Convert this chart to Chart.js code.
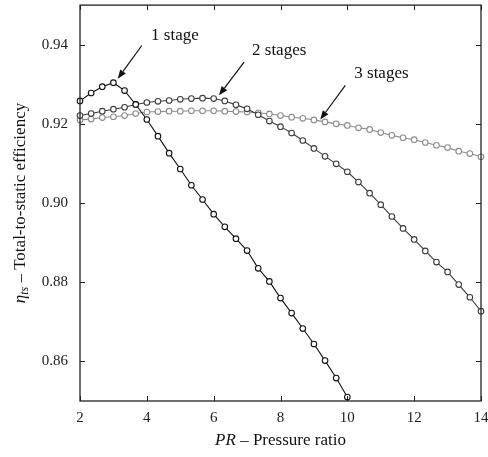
<!DOCTYPE html>
<html>
<head>
<meta charset="utf-8">
<script src="https://cdn.jsdelivr.net/npm/chart.js@4.4.1/dist/chart.umd.min.js"></script>
<style>
  html, body { margin: 0; padding: 0; background: #fff; }
  #wrap { width: 488px; height: 457px; position: relative; }
</style>
</head>
<body>
<div id="wrap"><canvas id="effChart"></canvas></div>
<script>
// pressure ratio samples (step of one third)
const pressureRatio = [2, 2.333, 2.667, 3, 3.333, 3.667, 4, 4.333, 4.667, 5, 5.333, 5.667, 6,
    6.333, 6.667, 7, 7.333, 7.667, 8, 8.333, 8.667, 9, 9.333, 9.667, 10,
    10.333, 10.667, 11, 11.333, 11.667, 12, 12.333, 12.667, 13, 13.333, 13.667, 14];

const eta1Stage = [0.9258, 0.9278, 0.9294, 0.9304, 0.9284, 0.9249, 0.9211, 0.9169, 0.9126, 0.9086,
    0.9045, 0.9009, 0.8972, 0.8940, 0.8910, 0.8880, 0.8835, 0.8802, 0.8760, 0.8722,
    0.8683, 0.8644, 0.8602, 0.8558, 0.8510];

const eta2Stages = [0.9221, 0.9226, 0.9232, 0.9237, 0.9242, 0.9249, 0.9254, 0.9257, 0.9259, 0.9262,
    0.9264, 0.9265, 0.9264, 0.9258, 0.9248, 0.9238, 0.9223, 0.9207, 0.9193, 0.9177,
    0.9158, 0.9138, 0.9118, 0.9099, 0.9079, 0.9053, 0.9025, 0.8996, 0.8966, 0.8936,
    0.8908, 0.8879, 0.8851, 0.8826, 0.8794, 0.8762, 0.8727];

const eta3Stages = [0.9210, 0.9212, 0.9216, 0.9218, 0.9221, 0.9226, 0.9230, 0.9231, 0.9232, 0.9232,
    0.9233, 0.9233, 0.9233, 0.9232, 0.9231, 0.9230, 0.9228, 0.9225, 0.9221, 0.9217,
    0.9214, 0.9210, 0.9205, 0.9200, 0.9196, 0.9190, 0.9186, 0.9178, 0.9171, 0.9165,
    0.9160, 0.9153, 0.9146, 0.9140, 0.9131, 0.9125, 0.9117];

const xTicks = [2, 4, 6, 8, 10, 12, 14];
const yTicks = [0.86, 0.88, 0.90, 0.92, 0.94];

// labels with arrows: text position, arrow tail, arrow head (data units)
const notes = [
    { text: '1 stage',  tx: 4.84,  ty: 0.9424, x0: 3.85, y0: 0.9398, x1: 3.13, y1: 0.9314 },
    { text: '2 stages', tx: 7.96,  ty: 0.9384, x0: 6.91, y0: 0.9356, x1: 6.16, y1: 0.9272 },
    { text: '3 stages', tx: 11.02, ty: 0.9326, x0: 9.94, y0: 0.9297, x1: 9.19, y1: 0.9211 },
];

const SERIF = '"Liberation Serif", "DejaVu Serif", serif';

function toPoints(ys) {
    return ys.map((y, i) => ({ x: pressureRatio[i], y }));
}

function serie(label, ys, color) {
    return {
        label,
        data: toPoints(ys),
        borderColor: color,
        borderWidth: 1.1,
        pointRadius: 2.8,
        pointBorderWidth: 1.1,
        pointBackgroundColor: '#fff',
        pointBorderColor: color,
        tension: 0,
        clip: false,
    };
}

// frame, inward ticks, axis titles and arrow notes
const decorPlugin = {
    id: 'decor',
    afterDraw(chart) {
        const { ctx, chartArea: a, scales } = chart;
        const xs = scales.x, ys = scales.y;
        ctx.save();
        ctx.strokeStyle = '#222';
        ctx.lineWidth = 1.3;
        ctx.strokeRect(a.left, a.top, a.right - a.left, a.bottom - a.top);

        ctx.lineWidth = 1;
        const tl = 5;
        ctx.beginPath();
        xTicks.forEach(v => {
            const px = Math.round(xs.getPixelForValue(v)) + 0.5;
            ctx.moveTo(px, a.bottom); ctx.lineTo(px, a.bottom - tl);
            ctx.moveTo(px, a.top); ctx.lineTo(px, a.top + tl);
        });
        yTicks.forEach(v => {
            const py = Math.round(ys.getPixelForValue(v)) + 0.5;
            ctx.moveTo(a.left, py); ctx.lineTo(a.left + tl, py);
            ctx.moveTo(a.right, py); ctx.lineTo(a.right - tl, py);
        });
        ctx.stroke();

        // notes
        ctx.fillStyle = '#111';
        ctx.strokeStyle = '#111';
        ctx.font = '17px ' + SERIF;
        ctx.textAlign = 'center';
        ctx.textBaseline = 'middle';
        notes.forEach(n => {
            ctx.fillText(n.text, xs.getPixelForValue(n.tx), ys.getPixelForValue(n.ty));
            const x0 = xs.getPixelForValue(n.x0), y0 = ys.getPixelForValue(n.y0);
            const x1 = xs.getPixelForValue(n.x1), y1 = ys.getPixelForValue(n.y1);
            const ang = Math.atan2(y1 - y0, x1 - x0);
            const hl = 9, hw = 3.5;
            const bx = x1 - hl * Math.cos(ang), by = y1 - hl * Math.sin(ang);
            ctx.lineWidth = 1.2;
            ctx.beginPath();
            ctx.moveTo(x0, y0); ctx.lineTo(bx, by);
            ctx.stroke();
            ctx.beginPath();
            ctx.moveTo(x1, y1);
            ctx.lineTo(bx + hw * Math.sin(ang), by - hw * Math.cos(ang));
            ctx.lineTo(bx - hw * Math.sin(ang), by + hw * Math.cos(ang));
            ctx.closePath();
            ctx.fill();
        });

        // x axis title
        const xt = 'PR';
        const xr = ' \u2013 Pressure ratio';
        ctx.textBaseline = 'alphabetic';
        ctx.textAlign = 'left';
        ctx.font = 'italic 17px ' + SERIF;
        const w1 = ctx.measureText(xt).width;
        ctx.font = '17px ' + SERIF;
        const w2 = ctx.measureText(xr).width;
        let sx = (a.left + a.right) / 2 - (w1 + w2) / 2;
        const sy = 445;
        ctx.font = 'italic 17px ' + SERIF;
        ctx.fillText(xt, sx, sy);
        ctx.font = '17px ' + SERIF;
        ctx.fillText(xr, sx + w1, sy);

        // y axis title (rotated)
        ctx.translate(19, (a.top + a.bottom) / 2);
        ctx.rotate(-Math.PI / 2);
        const yr = ' \u2013 Total-to-static efficiency';
        ctx.font = 'italic 17px ' + SERIF;
        const we = ctx.measureText('\u03b7').width;
        ctx.font = 'italic 12px ' + SERIF;
        const ws = ctx.measureText('ts').width;
        ctx.font = '17px ' + SERIF;
        const wr = ctx.measureText(yr).width;
        let ox = -(we + ws + wr) / 2;
        ctx.font = 'italic 17px ' + SERIF;
        ctx.fillText('\u03b7', ox, 6);
        ctx.font = 'italic 12px ' + SERIF;
        ctx.fillText('ts', ox + we, 9);
        ctx.font = '17px ' + SERIF;
        ctx.fillText(yr, ox + we + ws, 6);
        ctx.restore();
    }
};

const ctx = document.getElementById('effChart').getContext('2d');
new Chart(ctx, {
    type: 'line',
    data: {
        datasets: [
            serie('1 stage', eta1Stage, '#111'),
            serie('2 stages', eta2Stages, '#3c3c3c'),
            serie('3 stages', eta3Stages, '#8c8c8c'),
        ],
    },
    options: {
        responsive: true,
        maintainAspectRatio: false,
        animation: false,
        layout: { padding: { top: -3, right: 7, left: 0, bottom: 0 } },
        plugins: {
            legend: { display: false },
            tooltip: { enabled: false },
        },
        scales: {
            x: {
                type: 'linear',
                min: 2,
                max: 14,
                grid: { display: false },
                border: { display: false },
                afterBuildTicks: s => { s.ticks = xTicks.map(v => ({ value: v })); },
                afterFit: s => { s.height = 56; s.paddingLeft = 0; s.paddingRight = 0; },
                ticks: {
                    color: '#222',
                    font: { family: SERIF, size: 15 },
                    padding: 0,
                    maxRotation: 0,
                    callback: v => String(v),
                },
            },
            y: {
                type: 'linear',
                min: 0.85,
                max: 0.95,
                grid: { display: false },
                border: { display: false },
                afterBuildTicks: s => { s.ticks = yTicks.map(v => ({ value: v })); },
                afterFit: s => { s.width = 80; s.paddingTop = 0; s.paddingBottom = 0; },
                ticks: {
                    color: '#222',
                    font: { family: SERIF, size: 15 },
                    padding: 4,
                    callback: v => Number(v).toFixed(2),
                },
            },
        },
    },
    plugins: [decorPlugin],
});
</script>
</body>
</html>
